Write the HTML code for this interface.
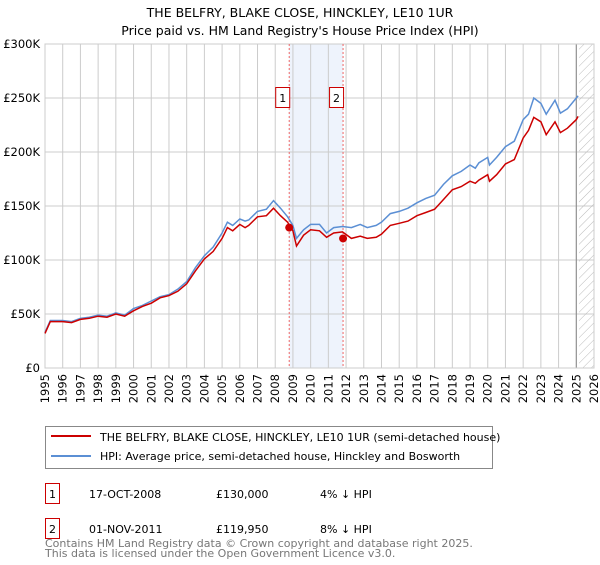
<!DOCTYPE html>
<html><head><meta charset="utf-8"><style>
body{margin:0;background:#fff;font-family:"Liberation Sans","DejaVu Sans",sans-serif;}
svg text{font-family:"DejaVu Sans","Liberation Sans",sans-serif;}
</style></head><body>
<svg id="c" width="600" height="560" xmlns="http://www.w3.org/2000/svg">
<text x="300" y="17" text-anchor="middle" font-size="12.5">THE BELFRY, BLAKE CLOSE, HINCKLEY, LE10 1UR</text>
<text x="300" y="35" text-anchor="middle" font-size="12.5">Price paid vs. HM Land Registry's House Price Index (HPI)</text>
<g id="plot"></g>
<rect x="45.5" y="426.5" width="447" height="42" fill="#fff" stroke="#888"/>
<line x1="51" y1="436" x2="91" y2="436" stroke="#cc0000" stroke-width="2"/>
<text x="100" y="441" font-size="11">THE BELFRY, BLAKE CLOSE, HINCKLEY, LE10 1UR (semi-detached house)</text>
<line x1="51" y1="456" x2="91" y2="456" stroke="#5b8fd4" stroke-width="2"/>
<text x="100" y="460" font-size="11">HPI: Average price, semi-detached house, Hinckley and Bosworth</text>
<g>
<rect x="45.5" y="483.5" width="14" height="20" fill="#fff" stroke="#cc0000"/>
<text x="52.5" y="498" text-anchor="middle" font-size="11">1</text>
<text x="89" y="498" font-size="11">17-OCT-2008</text>
<text x="216" y="498" font-size="11">£130,000</text>
<text x="320" y="498" font-size="11">4% ↓ HPI</text></g>
<g>
<rect x="45.5" y="518.5" width="14" height="20" fill="#fff" stroke="#cc0000"/>
<text x="52.5" y="533" text-anchor="middle" font-size="11">2</text>
<text x="89" y="533" font-size="11">01-NOV-2011</text>
<text x="216" y="533" font-size="11">£119,950</text>
<text x="320" y="533" font-size="11">8% ↓ HPI</text></g>
<text x="45" y="547" font-size="11" fill="#777">Contains HM Land Registry data © Crown copyright and database right 2025.</text>
<text x="45" y="557" font-size="11" fill="#777">This data is licensed under the Open Government Licence v3.0.</text>
</svg>
<script>
const years=[1995,1996,1997,1998,1999,2000,2001,2002,2003,2004,2005,2006,2007,2008,2009,2010,2011,2012,2013,2014,2015,2016,2017,2018,2019,2020,2021,2022,2023,2024,2025,2026];
const yTicks=[0,50,100,150,200,250,300];
const yTickLabels=["£0","£50K","£100K","£150K","£200K","£250K","£300K"];
const dates=[1995.0,1995.3,1996,1996.5,1997,1997.5,1998,1998.5,1999,1999.5,2000,2000.5,2001,2001.5,2002,2002.5,2003,2003.5,2004,2004.5,2005,2005.3,2005.6,2006,2006.3,2006.5,2007,2007.5,2007.9,2008.3,2008.7,2009.0,2009.2,2009.6,2010,2010.5,2010.9,2011.3,2011.8,2012.3,2012.8,2013.2,2013.7,2014,2014.5,2015,2015.5,2016,2016.5,2017,2017.5,2018,2018.5,2019,2019.3,2019.5,2020,2020.1,2020.5,2021,2021.5,2022,2022.3,2022.6,2023,2023.3,2023.8,2024.1,2024.5,2025,2025.1];
const hpi=[33,44,44,43,46,47,49,48,51,49,55,58,62,66,68,73,80,93,104,112,125,135,132,138,136,137,145,147,155,148,140,132,120,128,133,133,125,130,131,130,133,130,132,135,143,145,148,153,157,160,170,178,182,188,185,190,195,188,195,205,210,230,235,250,245,235,248,236,240,250,252];
const price=[32,43,43,42,45,46,48,47,50,48,53,57,60,65,67,71,78,90,101,108,120,130,127,133,130,132,140,141,148,141,135,127,113,123,128,127,121,125,126,120,122,120,121,124,132,134,136,141,144,147,156,165,168,173,171,174,179,173,179,189,193,213,220,232,228,216,228,218,222,230,233];
const saleDates=[2008.79,2011.83];
const salePrices=[130,119.95];
const X0=45,X1=594,Y0=368,Y1=44;
const xs=d=>X0+(d-1995)/(2026-1995)*(X1-X0);
const ys=v=>Y0-v/300*(Y0-Y1);
const NS="http://www.w3.org/2000/svg";
const g=document.getElementById('plot');
function mk(t,a,p){const e=document.createElementNS(NS,t);for(const k in a)e.setAttribute(k,a[k]);(p||g).appendChild(e);return e;}
let e;
e=mk('rect',{x:xs(saleDates[0]),y:Y1,width:xs(saleDates[1])-xs(saleDates[0]),height:Y0-Y1,fill:'#eef3fc'});


years.forEach(y=>{e=mk('line',{x1:xs(y),x2:xs(y),y1:Y1,y2:Y0,stroke:'#ccc'});


const tx=xs(y)+4, ty=374;
e=mk('text',{x:tx,y:ty,'text-anchor':'end','font-size':11.5,transform:'rotate(-90 '+tx+' '+ty+')'});e.textContent=y;

});
yTicks.forEach((v,i)=>{e=mk('line',{x1:X0,x2:X1,y1:ys(v),y2:ys(v),stroke:'#ccc'});


e=mk('text',{x:40,y:ys(v)+4,'text-anchor':'end','font-size':11.5});e.textContent=yTickLabels[i];

});
const hx=xs(2025.15);
const defs=mk('defs',{});
const pat=mk('pattern',{id:'h',width:6,height:6,patternUnits:'userSpaceOnUse',patternTransform:'rotate(45)'},defs);
mk('line',{x1:0,y1:0,x2:0,y2:6,stroke:'#bbb','stroke-width':1},pat);
e=mk('rect',{x:hx,y:Y1,width:X1-hx,height:Y0-Y1,fill:'url(#h)'});


e=mk('line',{x1:xs(2025.0),x2:xs(2025.0),y1:Y1,y2:Y0,stroke:'#888'});


e=mk('rect',{x:X0,y:Y1,width:X1-X0,height:Y0-Y1,fill:'none',stroke:'#ccc'});


saleDates.forEach((d,i)=>{e=mk('line',{x1:xs(d),x2:xs(d),y1:Y1,y2:Y0,stroke:'#e66','stroke-dasharray':'2,2'});


e=mk('rect',{x:xs(d)-13.5,y:87.5,width:14,height:20,fill:'#fff',stroke:'#cc0000'});


e=mk('text',{x:xs(d)-6.5,y:102,'text-anchor':'middle','font-size':11});e.textContent=String(i+1);

});
const pts=a=>dates.map((d,i)=>xs(d).toFixed(1)+','+ys(a[i]).toFixed(1)).join(' ');
e=mk('polyline',{points:pts(hpi),fill:'none',stroke:'#5b8fd4','stroke-width':1.5});


e=mk('polyline',{points:pts(price),fill:'none',stroke:'#cc0000','stroke-width':1.5});


saleDates.forEach((d,i)=>{e=mk('circle',{cx:xs(d),cy:ys(salePrices[i]),r:4,fill:'#cc0000'});

});
</script>
</body></html>
